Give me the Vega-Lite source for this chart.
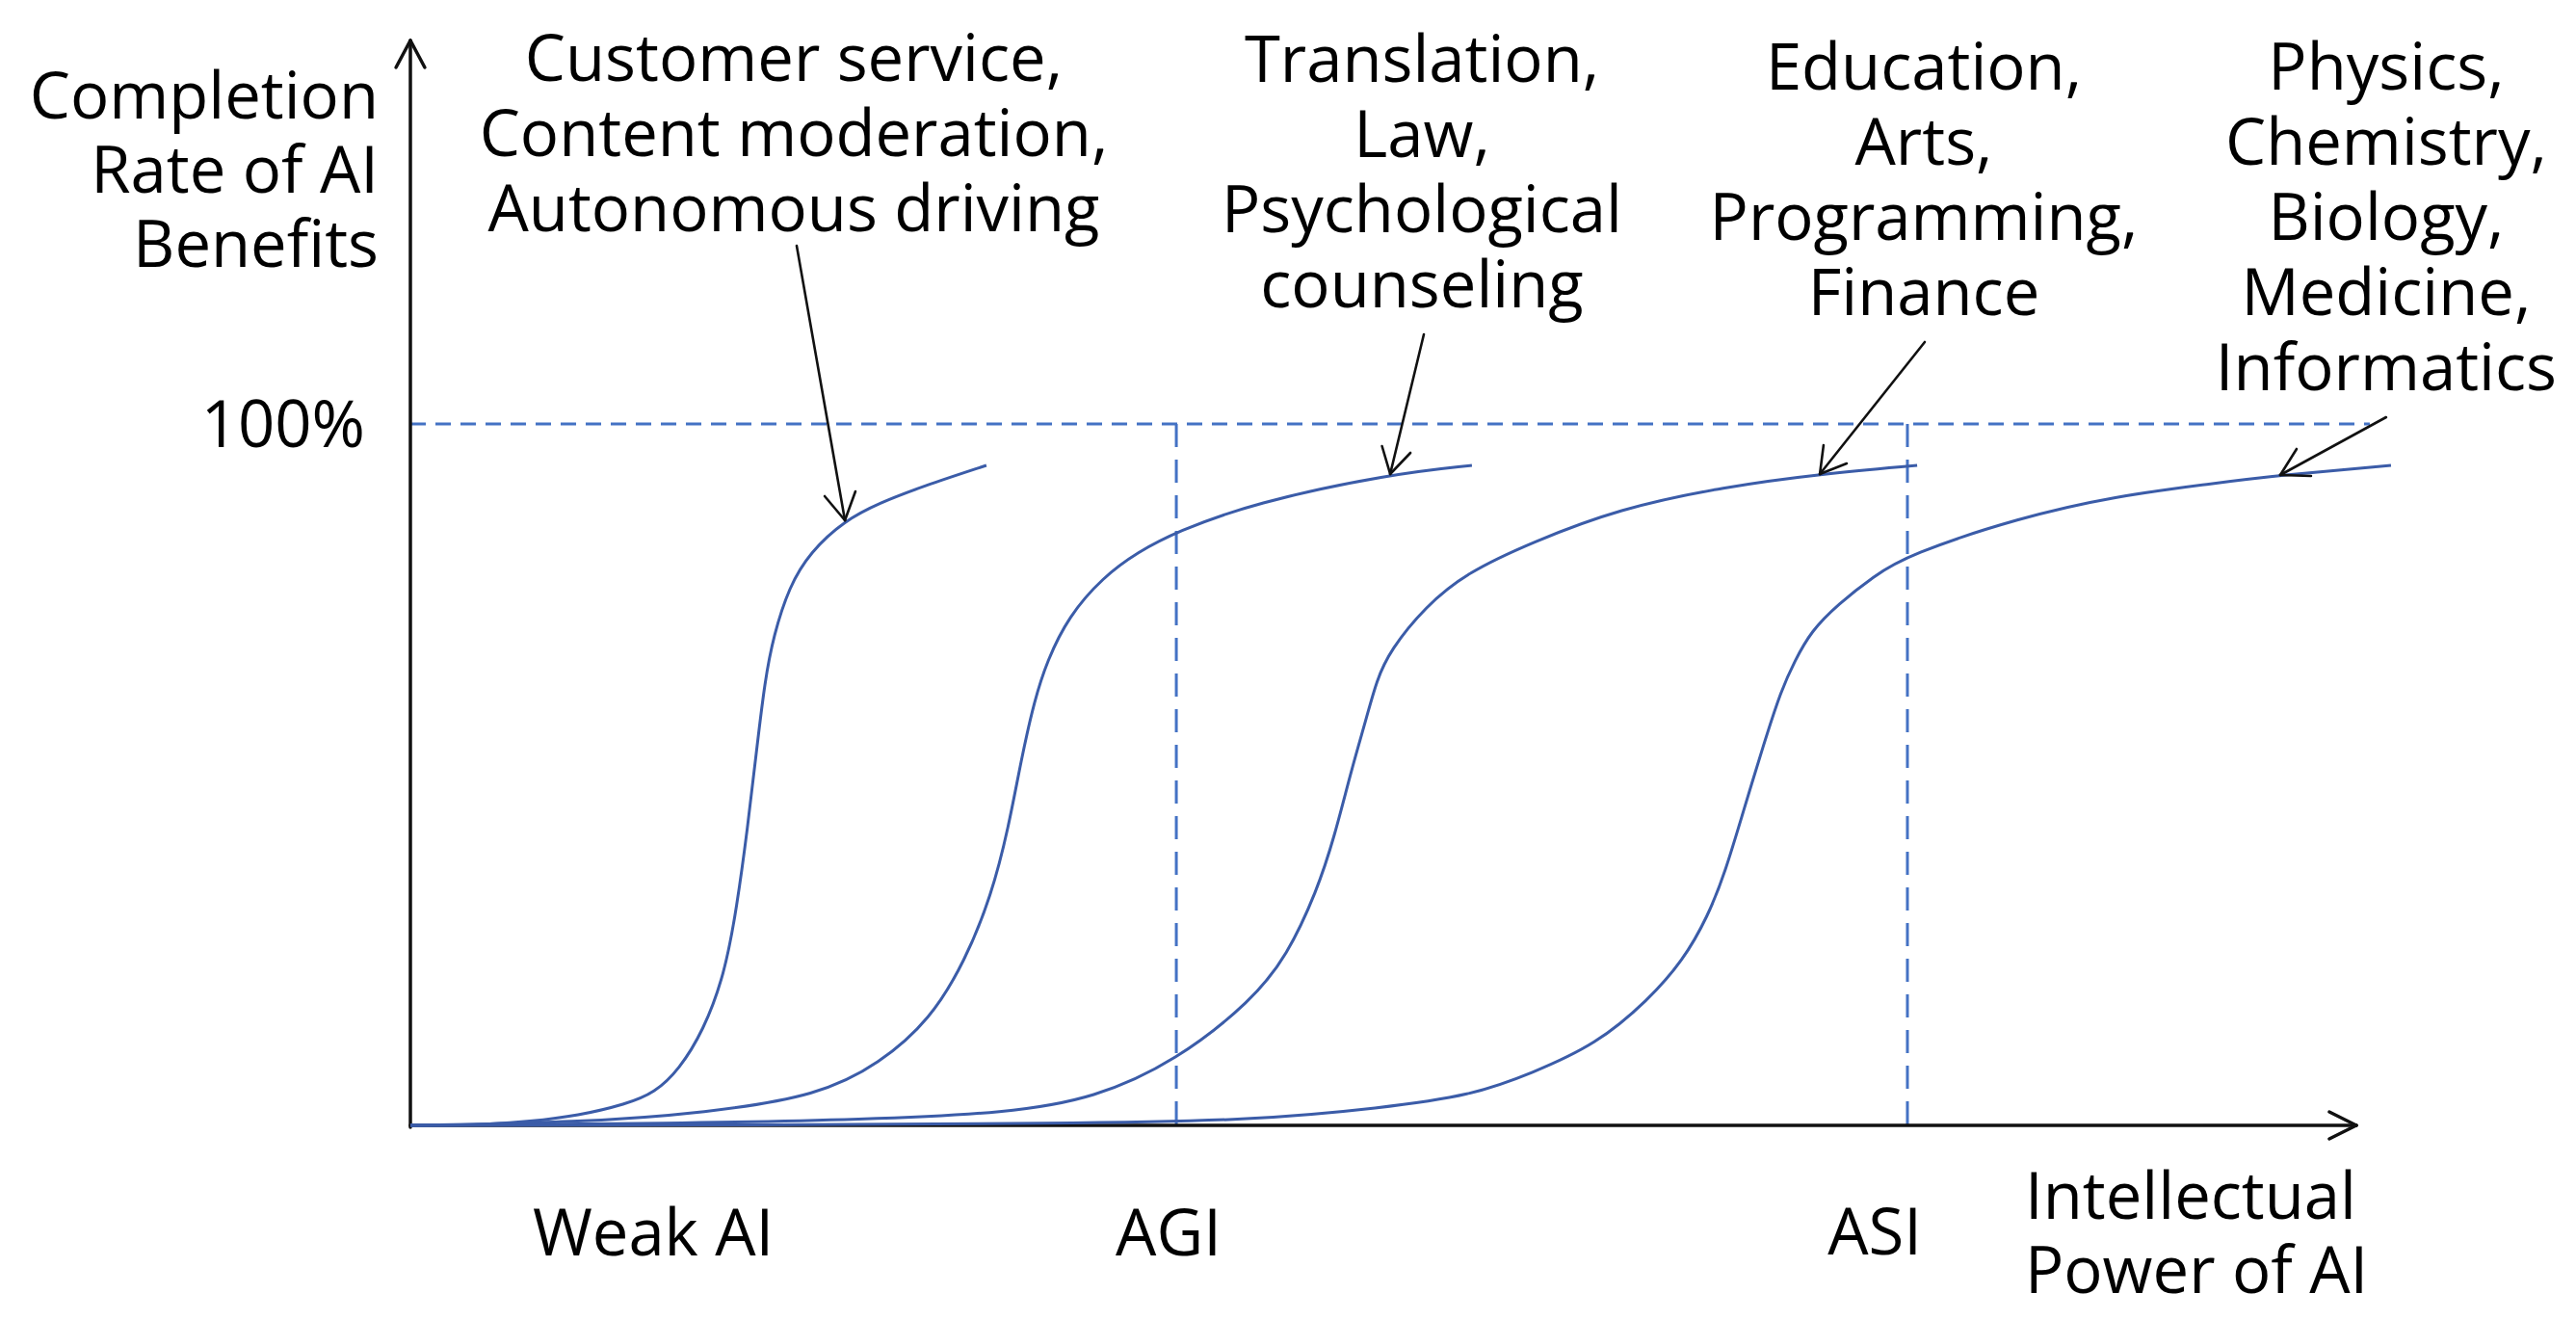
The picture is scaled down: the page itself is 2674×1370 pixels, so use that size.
{
  "$schema": "https://vega.github.io/schema/vega-lite/v6.json",
  "width": 2674,
  "height": 1370,
  "padding": 0,
  "autosize": {"type": "none"},
  "background": "white",
  "config": {"view": {"stroke": null}},
  "datasets": {
    "hline": [{"v": 0, "v2": 100.69, "u": 100, "u2": 100}],
    "vline": [
      {"name": "AGI", "v": 39.36, "v2": 39.36, "u": 100, "u2": 0},
      {"name": "ASI", "v": 76.93, "v2": 76.93, "u": 100, "u2": 0}
    ],
    "axes": [
      {"v": 0, "u": -0.27, "v2": 0, "u2": 154.67},
      {"v": -0.74, "u": 150.82, "v2": 0, "u2": 154.67},
      {"v": 0.74, "u": 150.82, "v2": 0, "u2": 154.67},
      {"v": 0, "u": 0, "v2": 100, "u2": 0},
      {"v": 98.61, "u": 1.92, "v2": 100, "u2": 0},
      {"v": 98.61, "u": -1.92, "v2": 100, "u2": 0}
    ],
    "arrows": [
      {"v": 19.85, "u": 125.41, "v2": 22.33, "u2": 86.26},
      {"v": 22.87, "u": 90.38, "v2": 22.33, "u2": 86.26},
      {"v": 21.29, "u": 89.70, "v2": 22.33, "u2": 86.26},
      {"v": 52.08, "u": 112.77, "v2": 50.35, "u2": 92.86},
      {"v": 51.39, "u": 95.88, "v2": 50.35, "u2": 92.86},
      {"v": 49.93, "u": 96.84, "v2": 50.35, "u2": 92.86},
      {"v": 77.82, "u": 111.68, "v2": 72.43, "u2": 92.86},
      {"v": 73.81, "u": 94.37, "v2": 72.43, "u2": 92.86},
      {"v": 72.62, "u": 96.98, "v2": 72.43, "u2": 92.86},
      {"v": 101.53, "u": 100.96, "v2": 96.09, "u2": 92.72},
      {"v": 97.67, "u": 92.58, "v2": 96.09, "u2": 92.72},
      {"v": 96.93, "u": 96.43, "v2": 96.09, "u2": 92.72}
    ],
    "curves": [
      {"c": 1, "v": 0, "u": 0}, {"c": 1, "v": 3.66, "u": 0.05}, {"c": 1, "v": 6.14, "u": 0.55},
      {"c": 1, "v": 8.61, "u": 1.37}, {"c": 1, "v": 11.09, "u": 3.02}, {"c": 1, "v": 12.57, "u": 4.67},
      {"c": 1, "v": 13.81, "u": 7.97}, {"c": 1, "v": 15.05, "u": 13.46}, {"c": 1, "v": 16.14, "u": 21.43},
      {"c": 1, "v": 16.78, "u": 31.18}, {"c": 1, "v": 17.33, "u": 42.45}, {"c": 1, "v": 17.77, "u": 53.02},
      {"c": 1, "v": 18.22, "u": 63.46}, {"c": 1, "v": 18.66, "u": 69.78}, {"c": 1, "v": 19.46, "u": 76.79},
      {"c": 1, "v": 20.54, "u": 81.73}, {"c": 1, "v": 22.33, "u": 86.26}, {"c": 1, "v": 24.11, "u": 88.74},
      {"c": 1, "v": 26.29, "u": 91.07}, {"c": 1, "v": 29.60, "u": 94.09},
      {"c": 2, "v": 0, "u": 0}, {"c": 2, "v": 8.61, "u": 0.41}, {"c": 2, "v": 15.25, "u": 1.79},
      {"c": 2, "v": 20.99, "u": 4.26}, {"c": 2, "v": 24.11, "u": 8.79}, {"c": 2, "v": 26.73, "u": 15.11},
      {"c": 2, "v": 28.51, "u": 23.49}, {"c": 2, "v": 29.85, "u": 32.69}, {"c": 2, "v": 30.74, "u": 42.45},
      {"c": 2, "v": 31.39, "u": 52.20}, {"c": 2, "v": 32.08, "u": 60.71}, {"c": 2, "v": 32.72, "u": 66.21},
      {"c": 2, "v": 33.81, "u": 72.53}, {"c": 2, "v": 35.59, "u": 78.16}, {"c": 2, "v": 37.38, "u": 81.73},
      {"c": 2, "v": 39.36, "u": 84.62}, {"c": 2, "v": 43.32, "u": 88.74}, {"c": 2, "v": 50.35, "u": 92.86},
      {"c": 2, "v": 54.55, "u": 94.09},
      {"c": 3, "v": 0, "u": 0}, {"c": 3, "v": 13.56, "u": 0.27}, {"c": 3, "v": 23.47, "u": 0.82},
      {"c": 3, "v": 30.74, "u": 1.79}, {"c": 3, "v": 35.15, "u": 3.85}, {"c": 3, "v": 39.36, "u": 9.20},
      {"c": 3, "v": 43.27, "u": 17.86}, {"c": 3, "v": 45.05, "u": 24.18}, {"c": 3, "v": 46.58, "u": 33.38},
      {"c": 3, "v": 47.48, "u": 41.07}, {"c": 3, "v": 48.37, "u": 50.82}, {"c": 3, "v": 49.11, "u": 57.83},
      {"c": 3, "v": 49.65, "u": 63.46}, {"c": 3, "v": 50.35, "u": 67.72}, {"c": 3, "v": 52.13, "u": 73.90},
      {"c": 3, "v": 54.31, "u": 78.85}, {"c": 3, "v": 57.62, "u": 83.10}, {"c": 3, "v": 62.08, "u": 87.91},
      {"c": 3, "v": 67.57, "u": 91.07}, {"c": 3, "v": 72.43, "u": 92.86}, {"c": 3, "v": 77.43, "u": 94.09},
      {"c": 4, "v": 0, "u": 0}, {"c": 4, "v": 18.51, "u": 0.05}, {"c": 4, "v": 33.37, "u": 0.27},
      {"c": 4, "v": 43.27, "u": 0.69}, {"c": 4, "v": 49.90, "u": 2.47}, {"c": 4, "v": 54.55, "u": 4.26},
      {"c": 4, "v": 57.62, "u": 7.42}, {"c": 4, "v": 60.94, "u": 11.54}, {"c": 4, "v": 63.61, "u": 17.86},
      {"c": 4, "v": 65.40, "u": 23.49}, {"c": 4, "v": 66.68, "u": 29.81}, {"c": 4, "v": 67.57, "u": 36.13},
      {"c": 4, "v": 68.47, "u": 44.51}, {"c": 4, "v": 69.55, "u": 54.40}, {"c": 4, "v": 70.45, "u": 62.09},
      {"c": 4, "v": 71.14, "u": 66.21}, {"c": 4, "v": 71.98, "u": 70.47}, {"c": 4, "v": 73.37, "u": 74.31},
      {"c": 4, "v": 75.20, "u": 78.30}, {"c": 4, "v": 76.93, "u": 81.32}, {"c": 4, "v": 82.72, "u": 86.68},
      {"c": 4, "v": 87.62, "u": 89.70}, {"c": 4, "v": 92.52, "u": 91.48}, {"c": 4, "v": 96.19, "u": 92.72},
      {"c": 4, "v": 101.78, "u": 94.09}
    ],
    "labels": [
      {"kind": "ytitle", "v": -1.634, "u": 143.54, "t": "Completion\nRate of AI\nBenefits"},
      {"kind": "ytitle", "v": -2.327, "u": 96.70, "t": "100%"},
      {"kind": "annot", "v": 19.70, "u": 148.90, "t": "Customer service,\nContent moderation,\nAutonomous driving"},
      {"kind": "annot", "v": 51.98, "u": 148.76, "t": "Translation,\nLaw,\nPsychological\ncounseling"},
      {"kind": "annot", "v": 77.77, "u": 147.66, "t": "Education,\nArts,\nProgramming,\nFinance"},
      {"kind": "annot", "v": 101.53, "u": 147.66, "t": "Physics,\nChemistry,\nBiology,\nMedicine,\nInformatics"},
      {"kind": "annot", "v": 12.48, "u": -18.54, "t": "Weak AI"},
      {"kind": "annot", "v": 38.96, "u": -18.54, "t": "AGI"},
      {"kind": "annot", "v": 75.25, "u": -18.41, "t": "ASI"},
      {"kind": "xtitle", "v": 82.97, "u": -13.32, "t": "Intellectual\nPower of AI"}
    ]
  },
  "layer": [
    {
      "data": {"name": "hline"},
      "mark": {"type": "rule", "color": "#4472c4", "strokeWidth": 3, "strokeDash": [16, 10]},
      "encoding": {
        "x": {"field": "v", "type": "quantitative", "axis": null, "scale": {"domain": [-21.089, 111.287], "nice": false, "zero": false}},
        "x2": {"field": "v2"},
        "y": {"field": "u", "type": "quantitative", "axis": null, "scale": {"domain": [-27.747, 160.44], "nice": false, "zero": false}},
        "y2": {"field": "u2"}
      }
    },
    {
      "data": {"name": "vline"},
      "mark": {"type": "rule", "color": "#4472c4", "strokeWidth": 3, "strokeDash": [24, 13]},
      "encoding": {
        "x": {"field": "v", "type": "quantitative", "axis": null, "scale": {"domain": [-21.089, 111.287], "nice": false, "zero": false}},
        "x2": {"field": "v2"},
        "y": {"field": "u", "type": "quantitative", "axis": null, "scale": {"domain": [-27.747, 160.44], "nice": false, "zero": false}},
        "y2": {"field": "u2"}
      }
    },
    {
      "data": {"name": "axes"},
      "mark": {"type": "rule", "color": "#111111", "strokeWidth": 3.5, "strokeCap": "round"},
      "encoding": {
        "x": {"field": "v", "type": "quantitative", "axis": null, "scale": {"domain": [-21.089, 111.287], "nice": false, "zero": false}},
        "x2": {"field": "v2"},
        "y": {"field": "u", "type": "quantitative", "axis": null, "scale": {"domain": [-27.747, 160.44], "nice": false, "zero": false}},
        "y2": {"field": "u2"}
      }
    },
    {
      "data": {"name": "curves"},
      "mark": {"type": "line", "color": "#3b5ca8", "strokeWidth": 3, "interpolate": "basis"},
      "encoding": {
        "x": {"field": "v", "type": "quantitative", "axis": null, "scale": {"domain": [-21.089, 111.287], "nice": false, "zero": false}},
        "y": {"field": "u", "type": "quantitative", "axis": null, "scale": {"domain": [-27.747, 160.44], "nice": false, "zero": false}},
        "detail": {"field": "c", "type": "nominal"}
      }
    },
    {
      "data": {"name": "arrows"},
      "mark": {"type": "rule", "color": "#111111", "strokeWidth": 2.6, "strokeCap": "round"},
      "encoding": {
        "x": {"field": "v", "type": "quantitative", "axis": null, "scale": {"domain": [-21.089, 111.287], "nice": false, "zero": false}},
        "x2": {"field": "v2"},
        "y": {"field": "u", "type": "quantitative", "axis": null, "scale": {"domain": [-27.747, 160.44], "nice": false, "zero": false}},
        "y2": {"field": "u2"}
      }
    },
    {
      "data": {"name": "labels"},
      "transform": [{"filter": "datum.kind === 'ytitle'"}],
      "mark": {"type": "text", "font": "Open Sans", "fontSize": 67, "fontWeight": 500, "color": "#000000", "align": "right", "baseline": "alphabetic", "lineBreak": "\n", "lineHeight": 77},
      "encoding": {
        "x": {"field": "v", "type": "quantitative", "axis": null, "scale": {"domain": [-21.089, 111.287], "nice": false, "zero": false}},
        "y": {"field": "u", "type": "quantitative", "axis": null, "scale": {"domain": [-27.747, 160.44], "nice": false, "zero": false}},
        "text": {"field": "t"}
      }
    },
    {
      "data": {"name": "labels"},
      "transform": [{"filter": "datum.kind === 'annot'"}],
      "mark": {"type": "text", "font": "Open Sans", "fontSize": 67, "fontWeight": 500, "color": "#000000", "align": "center", "baseline": "alphabetic", "lineBreak": "\n", "lineHeight": 78},
      "encoding": {
        "x": {"field": "v", "type": "quantitative", "axis": null, "scale": {"domain": [-21.089, 111.287], "nice": false, "zero": false}},
        "y": {"field": "u", "type": "quantitative", "axis": null, "scale": {"domain": [-27.747, 160.44], "nice": false, "zero": false}},
        "text": {"field": "t"}
      }
    },
    {
      "data": {"name": "labels"},
      "transform": [{"filter": "datum.kind === 'xtitle'"}],
      "mark": {"type": "text", "font": "Open Sans", "fontSize": 67, "fontWeight": 500, "color": "#000000", "align": "left", "baseline": "alphabetic", "lineBreak": "\n", "lineHeight": 77},
      "encoding": {
        "x": {"field": "v", "type": "quantitative", "axis": null, "scale": {"domain": [-21.089, 111.287], "nice": false, "zero": false}},
        "y": {"field": "u", "type": "quantitative", "axis": null, "scale": {"domain": [-27.747, 160.44], "nice": false, "zero": false}},
        "text": {"field": "t"}
      }
    }
  ]
}
